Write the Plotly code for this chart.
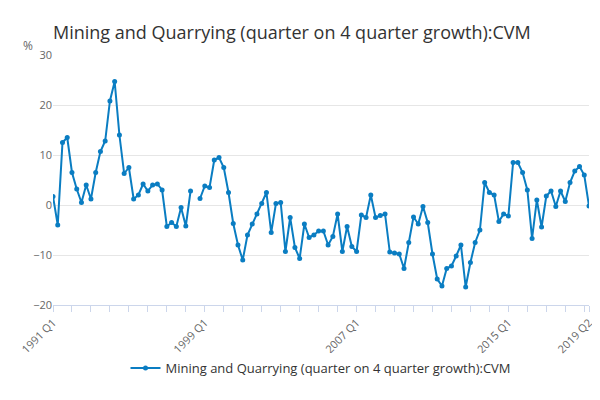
import plotly.graph_objects as go

values = [
    1.7, -4, 12.5, 13.5,
    6.5, 3.2, 0.5, 4,
    1.2, 6.5, 10.7, 12.8,
    20.8, 24.7, 14, 6.3,
    7.5, 1.2, 2, 4.2,
    2.8, 4, 4.2, 3,
    -4.3, -3.5, -4.3, -0.5,
    -4.2, 2.8, None, 1.3,
    3.8, 3.5, 9.0, 9.5,
    7.5, 2.5, -3.7, -8,
    -11, -6, -3.8, -1.8,
    0.3, 2.5, -5.5, 0.3,
    0.5, -9.3, -2.5, -8.5,
    -10.7, -3.8, -6.5, -6,
    -5.2, -5.2, -8, -6.3,
    -1.8, -9.3, -4.3, -8.3,
    -9.3, -2, -2.5, 2,
    -2.5, -2.1, -1.8, -9.4,
    -9.6, -9.8, -12.7, -7.5,
    -2.4, -3.8, -0.3, -3.5,
    -9.8, -14.8, -16.2, -12.7,
    -12.2, -10.2, -8, -16.4,
    -11.5, -7.5, -5, 4.5,
    2.5, 2, -3.3, -1.8,
    -2.2, 8.5, 8.5, 6.5,
    3, -6.7, 1, -4.4,
    1.8, 2.8, -0.3, 2.8,
    0.7, 4.5, 6.8, 7.7,
    6, -0.2,
]
quarters = [f"{1991 + i // 4} Q{i % 4 + 1}" for i in range(len(values))]
tick_labels = ["1991 Q1", "1999 Q1", "2007 Q1", "2015 Q1", "2019 Q2"]

x = list(range(len(values)))
tickvals = [quarters.index(t) for t in tick_labels]
year_ticks = [i for i in x if i % 4 == 0] + [len(values) - 1]

fig = go.Figure()
fig.add_trace(go.Scatter(
    x=x, y=values, mode='lines+markers',
    name='Mining and Quarrying (quarter on 4 quarter growth):CVM',
    line=dict(color='#0a7dc2', width=2),
    marker=dict(size=5, color='#0a7dc2'),
    connectgaps=False,
))

fig.update_layout(
    width=600, height=400,
    paper_bgcolor='#ffffff', plot_bgcolor='#ffffff',
    title=dict(text='Mining and Quarrying (quarter on 4 quarter growth):CVM',
               x=0.075, xanchor='left', y=0.955,
               font=dict(family='Open Sans, sans-serif', size=18, color='#333333')),
    font=dict(family='Open Sans, sans-serif', color='#666666', size=11),
    margin=dict(l=45, r=19, t=47, b=103),
    showlegend=True,
    legend=dict(orientation='h', x=0.5, xanchor='center', yref='container',
                y=0.1, yanchor='middle',
                font=dict(size=13, color='#333333')),
    xaxis=dict(range=[0, len(values) - 1], tickvals=tickvals, ticktext=tick_labels,
               tickangle=-45, showgrid=False, zeroline=False, automargin=False,
               showline=True, linecolor='#ccd6eb', ticks='outside', ticklen=6,
               tickcolor='#ccd6eb',
               minor=dict(tickvals=year_ticks, ticks='outside', ticklen=6,
                          tickcolor='#ccd6eb')),
    yaxis=dict(range=[-20, 30], dtick=10, showgrid=True, gridcolor='#e6e6e6',
               zeroline=False, ticks='', automargin=False),
    annotations=[
        dict(text='%', xref='paper', yref='paper', x=-0.06, y=1.08,
             showarrow=False, font=dict(size=12, color='#666666')),
        dict(text='Source:', xref='paper', yref='paper', x=1.0, xshift=10,
             y=-0.46, xanchor='right', showarrow=False,
             font=dict(size=13, color='#666666')),
    ],
)

fig.write_html("out.html")
